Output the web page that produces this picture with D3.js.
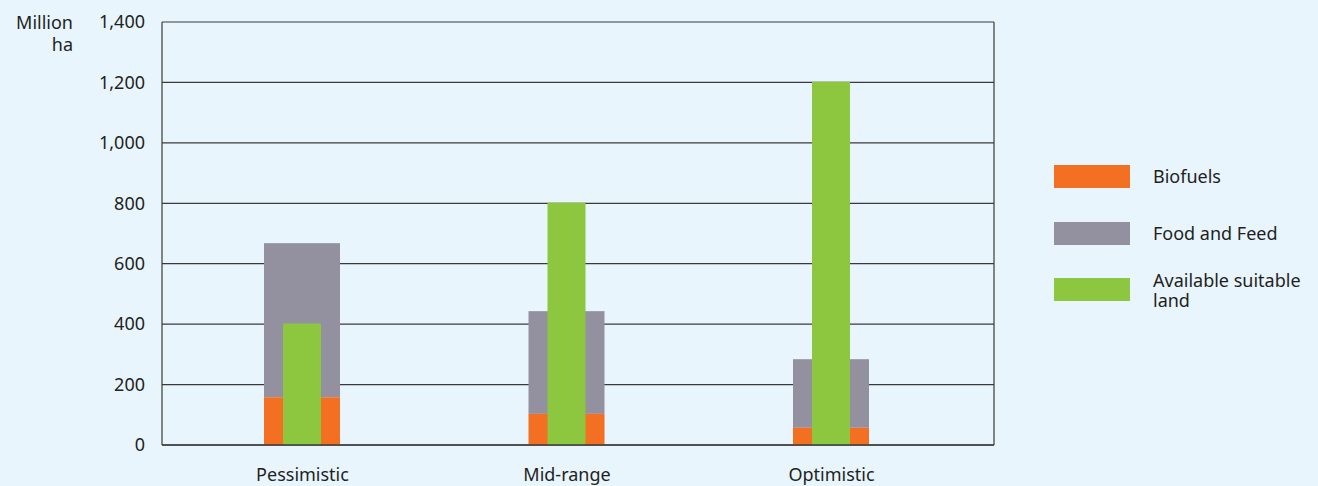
<!DOCTYPE html>
<html>
<head>
<meta charset="utf-8">
<script src="https://cdn.jsdelivr.net/npm/d3@7"></script>
<style>
  body { margin: 0; background: #e8f5fd; }
  svg { display: block; font-family: "Noto Sans", "Open Sans", sans-serif; }
</style>
</head>
<body>
<svg id="chart" width="1318" height="486"></svg>
<script>
// data (million ha)
const scenarios = ["Pessimistic", "Mid-range", "Optimistic"]
const biofuels = [158, 103, 57]
const foodFeed = [510, 340, 227]   // stacked on top of biofuels
const available = [402, 802, 1202]
const yTicks = [0, 200, 400, 600, 800, 1000, 1200, 1400]

const colors = { bio: "#f36f21", food: "#9391a0", land: "#8dc63f" }
const ink = "#231f20"
const fs = 18

const margin = { top: 22, left: 162, right: 324, bottom: 41 }
const width = 1318 - margin.left - margin.right
const height = 486 - margin.top - margin.bottom

const svg = d3.select("#chart")
const g = svg.append("g").attr("transform", `translate(${margin.left},${margin.top})`)

const x = d3.scalePoint().domain(scenarios).range([140, 669])
const y = d3.scaleLinear().domain([0, 1400]).range([height, 0])

const wideW = 76, narrowW = 38

// gridlines
g.selectAll(".grid")
    .data(yTicks)
    .enter()
    .append("line")
    .attr("x1", 0).attr("x2", width)
    .attr("y1", d => y(d)).attr("y2", d => y(d))
    .attr("stroke", "#3a3a3a").attr("stroke-width", 1.2)

// frame sides
g.append("line").attr("x1", 0).attr("x2", 0).attr("y1", 0).attr("y2", height)
    .attr("stroke", "#3a3a3a").attr("stroke-width", 1.2)
g.append("line").attr("x1", width).attr("x2", width).attr("y1", 0).attr("y2", height)
    .attr("stroke", "#3a3a3a").attr("stroke-width", 1.2)

// y tick labels
const yAxis = g.append("g")
    .call(d3.axisLeft(y).tickValues(yTicks).tickSize(0).tickPadding(17).tickFormat(d3.format(",")))
yAxis.select(".domain").remove()
yAxis.selectAll("text").attr("font-size", fs).attr("fill", ink).attr("font-family", "Noto Sans")

// stacked wide bars
g.selectAll(".food")
    .data(scenarios)
    .enter()
    .append("rect")
    .attr("x", d => x(d) - wideW / 2)
    .attr("width", wideW)
    .attr("y", (d, i) => y(biofuels[i] + foodFeed[i]))
    .attr("height", (d, i) => y(biofuels[i]) - y(biofuels[i] + foodFeed[i]))
    .attr("fill", colors.food)

g.selectAll(".bio")
    .data(scenarios)
    .enter()
    .append("rect")
    .attr("x", d => x(d) - wideW / 2)
    .attr("width", wideW)
    .attr("y", (d, i) => y(biofuels[i]))
    .attr("height", (d, i) => height - y(biofuels[i]))
    .attr("fill", colors.bio)

// narrow green bars
g.selectAll(".land")
    .data(scenarios)
    .enter()
    .append("rect")
    .attr("x", d => x(d) - narrowW / 2)
    .attr("width", narrowW)
    .attr("y", (d, i) => y(available[i]))
    .attr("height", (d, i) => height - y(available[i]))
    .attr("fill", colors.land)

// baseline
g.append("line").attr("x1", 0).attr("x2", width).attr("y1", height).attr("y2", height)
    .attr("stroke", "#3a3a3a").attr("stroke-width", 1.5)

// x labels
const xAxis = g.append("g")
    .attr("transform", `translate(0,${height})`)
    .call(d3.axisBottom(x).tickSize(0).tickPadding(23))
xAxis.select(".domain").remove()
xAxis.selectAll("text").attr("font-size", fs).attr("fill", ink).attr("font-family", "Noto Sans")

// unit label
svg.append("text").attr("x", 73).attr("y", 29).attr("text-anchor", "end")
    .attr("font-size", fs).attr("fill", ink).text("Million")
svg.append("text").attr("x", 73).attr("y", 51).attr("text-anchor", "end")
    .attr("font-size", fs).attr("fill", ink).text("ha")

// legend
const legendItems = [
    { lines: ["Biofuels"], color: colors.bio, y: 165 },
    { lines: ["Food and Feed"], color: colors.food, y: 222 },
    { lines: ["Available suitable", "land"], color: colors.land, y: 278 }
]
const legend = svg.append("g")
legendItems.forEach(it => {
    legend.append("rect").attr("x", 1054).attr("y", it.y).attr("width", 76).attr("height", 23).attr("fill", it.color)
    const t = legend.append("text").attr("font-size", fs).attr("fill", ink)
    const startY = it.lines.length === 1 ? it.y + 18 : it.y + 9
    it.lines.forEach((l, i) => {
        t.append("tspan").attr("x", 1153).attr("y", startY + i * 20).text(l)
    })
})
</script>
</body>
</html>
